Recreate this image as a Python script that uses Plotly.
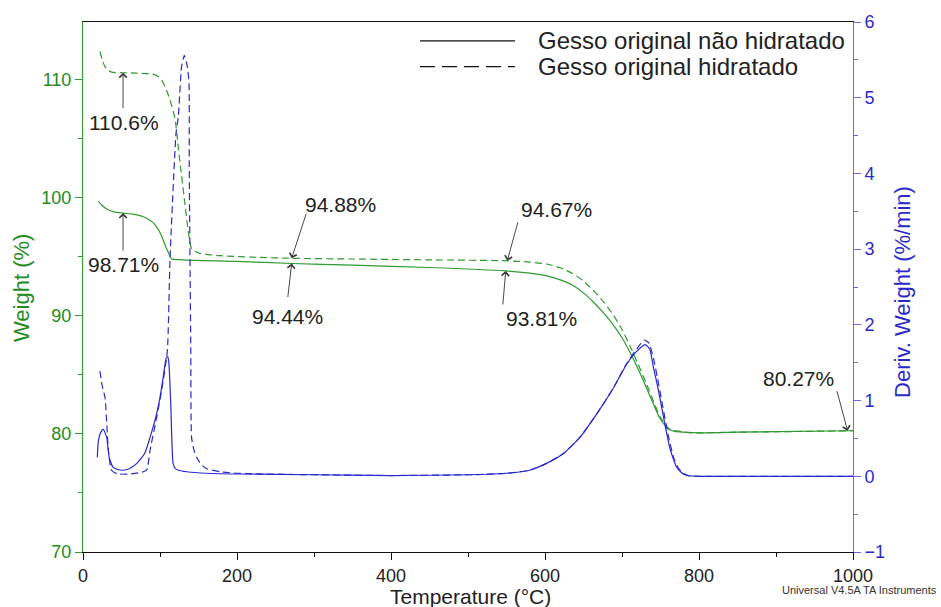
import plotly.graph_objects as go

# ---------------- data ----------------
# Weight (%) - Gesso original não hidratado (solid)
w_solid_x = [20, 25, 30.8, 40, 52, 65, 74, 82, 91, 96, 102, 106, 111, 115, 130, 200, 271, 350, 450, 549,
             580, 602, 620, 637, 650, 663, 676, 689, 700, 710, 721, 732, 741, 749, 756, 762, 768, 775, 784, 800,
             850, 900, 1000]
w_solid_y = [99.7, 99.35, 99.05, 98.82, 98.71, 98.62, 98.5, 98.3, 97.9, 97.5, 96.8, 96.1, 95.35, 94.85, 94.75,
             94.62, 94.44, 94.3, 94.1, 93.81, 93.62, 93.4, 93.05, 92.56, 91.95, 91.16, 90.25, 89.2, 88.15, 86.96,
             85.5, 83.87, 82.5, 81.35, 80.7, 80.35, 80.22, 80.17, 80.13, 80.1, 80.15, 80.2, 80.27]

# Weight (%) - Gesso original hidratado (dashed)
w_dash_x = [22, 25, 28.6, 33, 37, 52, 70, 89, 96, 102, 108, 113, 119.5, 124, 128, 132.5, 136.8, 141, 146, 152,
            165, 178, 220, 271, 350, 450, 551, 580, 602, 620, 637, 650, 663, 676, 689, 700, 710, 721, 732, 741,
            749, 756, 762, 768, 775, 790, 850, 1000]
w_dash_y = [112.4, 111.7, 111.1, 110.8, 110.65, 110.6, 110.57, 110.5, 110.35, 110.0, 109.2, 108.3, 106.7, 104.1,
            101.9, 99.4, 97.1, 95.7, 95.45, 95.3, 95.18, 95.1, 94.98, 94.88, 94.82, 94.75, 94.67, 94.56, 94.4,
            94.08, 93.55, 92.95, 92.15, 91.2, 90.05, 88.85, 87.5, 85.9, 84.2, 82.75, 81.5, 80.8, 80.4, 80.28,
            80.22, 80.1, 80.15, 80.27]

# Deriv. Weight (%/min) - não hidratado (solid)
d_solid_x = [18.6, 20, 23, 26.4, 30.8, 34, 39, 45, 52, 60, 70, 80, 87, 95, 100, 104, 108, 110, 111.5, 114, 117,
             120, 124, 135, 160, 200, 300, 400, 500, 550, 580, 602, 624, 645, 667, 689, 706, 719, 730, 736, 741,
             746, 751.5, 757, 762, 767, 771, 777, 784, 800, 900, 1000]
d_solid_y = [0.25, 0.47, 0.58, 0.62, 0.51, 0.25, 0.12, 0.09, 0.08, 0.10, 0.17, 0.30, 0.51, 0.80, 1.04, 1.30, 1.56,
             1.58, 1.50, 0.95, 0.17, 0.10, 0.08, 0.06, 0.04, 0.03, 0.02, 0.01, 0.02, 0.04, 0.08, 0.17, 0.30, 0.51,
             0.82, 1.17, 1.48, 1.65, 1.74, 1.68, 1.43, 1.20, 0.91, 0.62, 0.38, 0.22, 0.12, 0.05, 0.01, 0.0, 0.0, 0.0]

# Deriv. Weight (%/min) - hidratado (dashed)
d_dash_x = [22, 25, 28.6, 33, 37, 45, 60, 75, 82.7, 87, 95.7, 102, 109.5, 113, 120.8, 123.8, 128, 131.6, 135.5,
            137.7, 138, 139, 140, 141, 144, 147.6, 153, 160.6, 178, 200, 300, 400, 500, 550, 580, 602, 624, 645,
            667, 689, 706, 719, 729, 735, 741, 746, 751.5, 757, 762, 767, 772, 778, 786, 800, 900, 1000]
d_dash_y = [1.39, 1.19, 1.04, 0.34, 0.08, 0.03, 0.03, 0.05, 0.08, 0.34, 0.78, 1.13, 1.65, 2.87, 4.53, 4.75, 5.41,
            5.56, 5.41, 5.19, 4.10, 2.79, 1.65, 0.51, 0.35, 0.25, 0.16, 0.10, 0.06, 0.04, 0.02, 0.01, 0.02, 0.04,
            0.08, 0.17, 0.30, 0.51, 0.82, 1.17, 1.49, 1.68, 1.80, 1.76, 1.55, 1.30, 1.00, 0.70, 0.45, 0.25, 0.13,
            0.05, 0.01, 0.0, 0.0, 0.0]

series_names = ["Gesso original não hidratado", "Gesso original hidratado"]

# Labelled points: (x, weight, text)
label_x = [52, 52, 271, 271, 551, 549, 993]
label_y = [110.6, 98.71, 94.88, 94.44, 94.67, 93.81, 80.27]
label_text = ["110.6%", "98.71%", "94.88%", "94.44%", "94.67%", "93.81%", "80.27%"]

# ---------------- layout constants ----------------
W, H = 941, 607
L, R, T, B = 83, 853, 18, 552
GREEN = "#2f9a2f"
GREEN_TXT = "#228b22"
BLUE = "#2a2acc"
BLUE_AX = "#6a6ae6"
TXT = "#222222"


def px(xp):
    return (xp - L) / (R - L)


def py(yp):
    return (B - yp) / (B - T)


fig = go.Figure()
fig.add_trace(go.Scatter(x=w_solid_x, y=w_solid_y, mode="lines",
                         line=dict(color=GREEN, width=1.2, shape="spline", smoothing=0.6),
                         showlegend=False, name=series_names[0]))
fig.add_trace(go.Scatter(x=w_dash_x, y=w_dash_y, mode="lines",
                         line=dict(color=GREEN, width=1.2, dash="7px,4px", shape="spline", smoothing=0.6),
                         showlegend=False, name=series_names[1]))
fig.add_trace(go.Scatter(x=d_solid_x, y=d_solid_y, mode="lines",
                         line=dict(color=BLUE, width=1.2, shape="spline", smoothing=0.5),
                         yaxis="y2", showlegend=False, name=series_names[0]))
fig.add_trace(go.Scatter(x=d_dash_x, y=d_dash_y, mode="lines",
                         line=dict(color=BLUE, width=1.2, dash="7px,4px", shape="spline", smoothing=0.5),
                         yaxis="y2", showlegend=False, name=series_names[1]))

ann = []
# arrows (tail offsets in px)
arrow_ax = [0, 0, 15, -4, 11, -3, -11]
arrow_ay = [37, 39, -46, 35, -40, 35, -41]
for x, y, a_x, a_y in zip(label_x, label_y, arrow_ax, arrow_ay):
    ann.append(dict(x=x, y=y, xref="x", yref="y", text="", showarrow=True, ax=a_x, ay=a_y,
                    arrowhead=4, arrowsize=1.6, arrowwidth=0.9, arrowcolor="#333333"))
# label texts (pixel centres)
text_pos = [(124, 119), (123, 262), (340, 202), (287, 315), (556, 207), (541, 317), (798, 377)]
for t, (xp, yp) in zip(label_text, text_pos):
    ann.append(dict(x=px(xp), y=py(yp), xref="paper", yref="paper", text=t, showarrow=False,
                    xanchor="center", yanchor="middle", font=dict(size=21, color=TXT)))

# legend texts
ann.append(dict(x=px(536), y=py(37), xref="paper", yref="paper", text=series_names[0], showarrow=False,
                xanchor="left", yanchor="middle", font=dict(size=24, color=TXT)))
ann.append(dict(x=px(536), y=py(63), xref="paper", yref="paper", text=series_names[1], showarrow=False,
                xanchor="left", yanchor="middle", font=dict(size=24, color=TXT)))

# axis titles
ann.append(dict(x=px(470), y=py(597), xref="paper", yref="paper", text="Temperature (°C)", showarrow=False,
                xanchor="center", yanchor="middle", font=dict(size=21, color=TXT)))
ann.append(dict(x=px(22), y=py(286), xref="paper", yref="paper", text="Weight (%)", showarrow=False,
                textangle=-90, xanchor="center", yanchor="middle", font=dict(size=22, color=GREEN_TXT)))
ann.append(dict(x=px(903), y=py(290), xref="paper", yref="paper", text="Deriv. Weight (%/min)",
                showarrow=False, textangle=-90, xanchor="center", yanchor="middle",
                font=dict(size=22, color=BLUE)))
ann.append(dict(x=px(939), y=py(590), xref="paper", yref="paper", text="Universal V4.5A TA Instruments",
                showarrow=False, xanchor="right", yanchor="middle", font=dict(size=11, color="#333333")))

shapes = [
    dict(type="line", xref="paper", yref="paper", x0=px(420), x1=px(515), y0=py(37), y1=py(37),
         line=dict(color="#111111", width=1.3)),
    dict(type="line", xref="paper", yref="paper", x0=px(420), x1=px(515), y0=py(63), y1=py(63),
         line=dict(color="#111111", width=1.3, dash="15px,7px")),
]

fig.update_layout(
    width=W, height=H,
    margin=dict(l=L, r=W - R, t=T, b=H - B, pad=0),
    plot_bgcolor="white", paper_bgcolor="white",
    font=dict(family="Liberation Sans, Arial, sans-serif", color=TXT),
    showlegend=False,
    annotations=ann,
    shapes=shapes,
    xaxis=dict(range=[0, 1000], dtick=200, tick0=0, showgrid=False, zeroline=False,
               showline=True, linecolor="#111111", linewidth=1, mirror=True,
               ticks="outside", ticklen=7, tickcolor="#111111",
               tickfont=dict(size=18, color=TXT),
               minor=dict(dtick=100, ticks="outside", ticklen=4, tickcolor="#111111")),
    yaxis=dict(range=[70, 114.9], dtick=10, tick0=70, showgrid=False, zeroline=False,
               showline=True, linecolor=GREEN, linewidth=1,
               ticks="outside", ticklen=7, tickcolor=GREEN,
               tickfont=dict(size=18, color=GREEN_TXT),
               minor=dict(dtick=5, ticks="outside", ticklen=4, tickcolor=GREEN)),
    yaxis2=dict(range=[-1, 6], dtick=1, tick0=0, overlaying="y", side="right", showgrid=False,
                zeroline=False, showline=True, linecolor=BLUE_AX, linewidth=1,
                ticks="outside", ticklen=7, tickcolor=BLUE_AX,
                tickfont=dict(size=18, color=BLUE),
                minor=dict(dtick=0.5, ticks="outside", ticklen=4, tickcolor=BLUE_AX)),
)

fig.write_html("out.html")
